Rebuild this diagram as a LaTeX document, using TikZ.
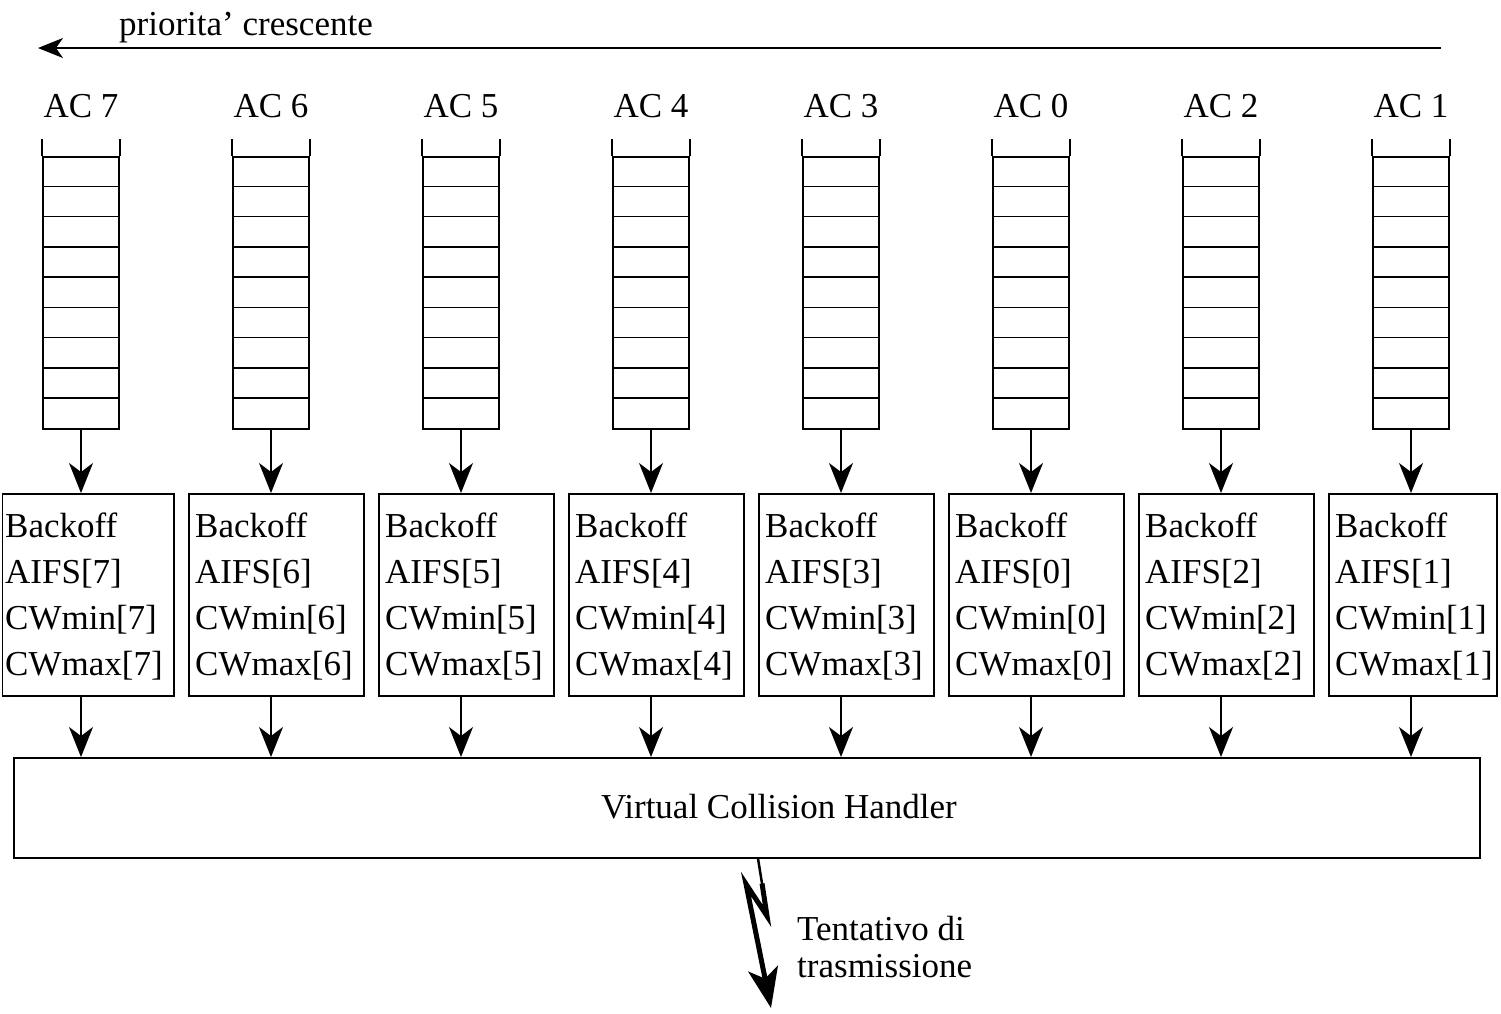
\documentclass[tikz,border=0pt]{standalone}
\usepackage{fontspec}
\setmainfont{Liberation Serif}
\usetikzlibrary{arrows.meta,calc}
\begin{document}
\begin{tikzpicture}[x=1pt,y=-1pt,
  every node/.style={inner sep=0pt},
  txt/.style={font=\fontsize{35}{46}\selectfont},
  queue/.style={draw, line width=1.6pt, minimum width=76pt, minimum height=272pt},
  boxst/.style={draw, line width=1.6pt, anchor=north west, minimum height=202pt},
  arr/.style={line width=1.6pt, -{Stealth[length=30pt,width=24pt,inset=9pt]}},
  toparr/.style={line width=1.8pt, -{Stealth[length=25pt,width=20pt,inset=7pt]}},
  bolt/.style={line width=5pt, line join=miter, -{Stealth[length=40pt,width=30pt,inset=10pt]}},
]
\useasboundingbox (0,0) rectangle (1501,1013);

% priority arrow
\coordinate (pr) at (1441,48);
\coordinate (pl) at (38,48);
\draw[toparr] (pr) -- (pl);
\node[txt, anchor=base west] (prio) at (119,35) {priorita’ crescente};

% virtual collision handler
\node[draw, line width=1.6pt, anchor=north west, minimum width=1466pt, minimum height=100pt] (vch) at (13,757) {};
\node[txt, anchor=base] (vcht) at (779,818) {Virtual Collision Handler};

\foreach \m/\xl/\xr [count=\k from 0] in {7/1.5/173, 6/188/363, 5/378/553, 4/568/743, 3/758/933, 0/948/1123, 2/1138/1313, 1/1328/1496} {
  \pgfmathsetmacro\c{81+190*\k}
  \pgfmathsetmacro\w{\xr-\xl}
  \coordinate (c\k) at (\c,0);
  \node[txt, anchor=base] (ac\k) at (\c,117) {AC \m};
  \node[queue] (q\k) at (\c,293) {};
  \draw[line width=1.6pt] (q\k.north west) -- ++(0,-17);
  \draw[line width=1.6pt] (q\k.north east) -- ++(0,-17);
  \foreach \j in {1,...,8} {
    \draw[line width=1.6pt] ([yshift=-\j*30.22pt]q\k.north west) -- ([yshift=-\j*30.22pt]q\k.north east);
  }
  \node[boxst, minimum width=\w pt] (b\k) at (\xl,493) {};
  \node[txt, anchor=north west, align=left] (t\k) at (\c-76,513) {Backoff\\AIFS[\m]\\CWmin[\m]\\CWmax[\m]};
  \draw[arr] (q\k.south) -- (b\k.north -| q\k.south);
  \draw[arr] (b\k.south -| c\k) -- (vch.north -| c\k);
}

% transmission attempt (lightning)
\coordinate (l1) at (758,857);
\coordinate (l2) at (767,916);
\coordinate (l3) at (746,884);
\coordinate (l4) at (771,1008);
\draw[line width=2.5pt] (vch.south -| l1) -- ($(l1)!0.5!(l2)$);
\draw[bolt] ($(l1)!0.45!(l2)$) -- (l2) -- (l3) -- (l4);
\node[anchor=north west, align=left, font=\fontsize{35}{37}\selectfont] (tent) at (797,916) {Tentativo di\\trasmissione};
\end{tikzpicture}
\end{document}
